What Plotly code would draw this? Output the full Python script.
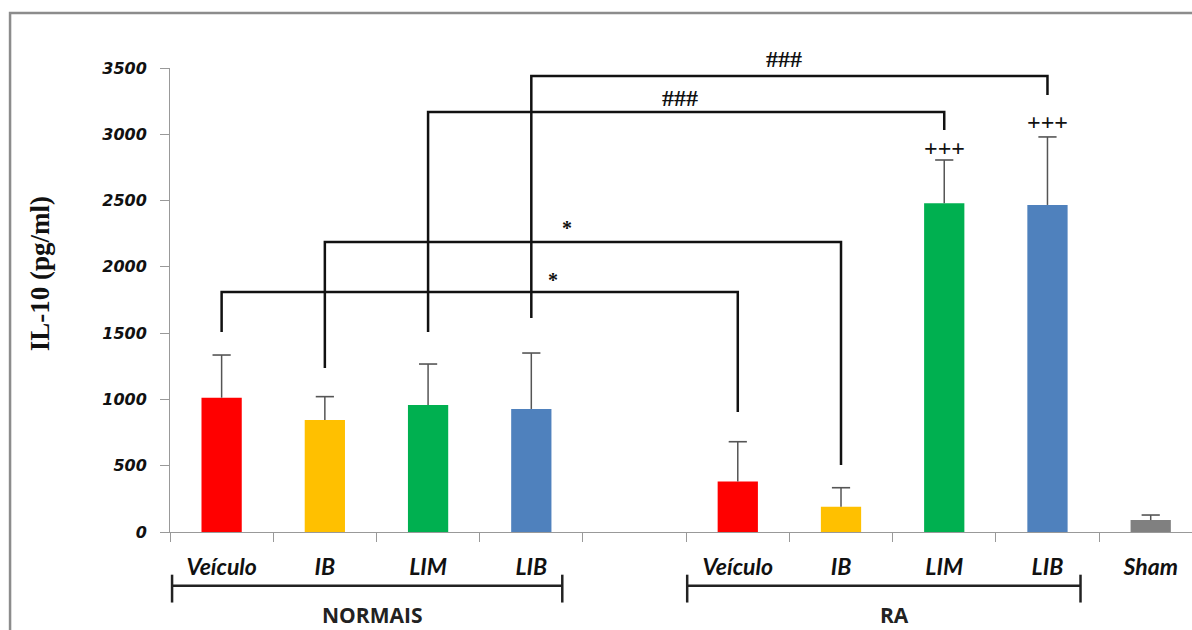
import plotly.graph_objects as go

# ---- data ----
labels = ["Veículo", "IB", "LIM", "LIB", "", "Veículo", "IB", "LIM", "LIB", "Sham"]
values = [1013, 845, 958, 928, None, 380, 191, 2479, 2467, 90]
err_up = [322, 176, 309, 422, None, 301, 143, 327, 513, 38]
colors = ["#FF0000", "#FFC000", "#00B050", "#4F81BD", "#FFFFFF",
          "#FF0000", "#FFC000", "#00B050", "#4F81BD", "#808080"]
y_ticks = [0, 500, 1000, 1500, 2000, 2500, 3000, 3500]

# comparisons: (left idx, right idx, bracket height, left leg bottom, right leg bottom, label)
comparisons = [
    (0, 5, 1810, 1509, 905, "*"),
    (1, 6, 2188, 1237, 505, "*"),
    (2, 7, 3168, 1509, 3032, "###"),
    (3, 8, 3440, 1614, 3296, "###"),
]
# label anchors for comparison marks (x in category units, y in data units)
comp_label_pos = [(3.21, 1900), (3.35, 2290), (4.44, 3270), (5.45, 3565)]
plus_marks = [(7, 2900, "+++"), (8, 3095, "+++")]
groups = [("NORMAIS", -0.48, 3.30, 1.46), ("RA", 4.51, 8.32, 6.52)]

x_idx = list(range(len(labels)))
xr = [-0.5, 9.4]
yr = [0, 3500]

def xp(xv):
    return (xv - xr[0]) / (xr[1] - xr[0])

def yp(yv):
    return (yv - yr[0]) / (yr[1] - yr[0])

err_top = [None if v is None else v + e for v, e in zip(values, err_up)]

fig = go.Figure()
fig.add_trace(go.Bar(
    x=x_idx, y=values, width=0.39,
    marker=dict(color=colors, line=dict(width=0)),
    showlegend=False, hoverinfo="skip",
))
# error whiskers (upward only) drawn from bar top to error top
fig.add_trace(go.Scatter(
    x=x_idx, y=err_top, mode="markers",
    marker=dict(symbol="line-ew", size=13, color="#555555",
                line=dict(color="#555555", width=1.6)),
    error_y=dict(type="data", symmetric=False, array=[0] * len(err_up),
                 arrayminus=[0 if e is None else e for e in err_up],
                 color="#555555", thickness=1.5, width=0),
    showlegend=False, hoverinfo="skip", cliponaxis=False,
))

shapes = []
annotations = []
line_col = "#111111"
for (a, b, h, la, lb, _t) in comparisons:
    shapes.append(dict(type="path", xref="x", yref="y",
                       path=f"M {a},{la} L {a},{h} L {b},{h} L {b},{lb}",
                       line=dict(color=line_col, width=2.5)))
for (t, (ax, ay)) in zip([c[5] for c in comparisons], comp_label_pos):
    annotations.append(dict(x=xp(ax), y=yp(ay), xref="paper", yref="paper", text=t,
                            showarrow=False, xanchor="center", yanchor="middle",
                            font=dict(family="Liberation Serif", size=24 if t != "*" else 20,
                                      color="#111111", weight="bold")))
for (px_, py_, t) in plus_marks:
    annotations.append(dict(x=xp(px_), y=yp(py_), xref="paper", yref="paper", text=t,
                            showarrow=False, xanchor="center", yanchor="middle",
                            font=dict(family="Liberation Serif", size=24,
                                      color="#111111", weight="bold")))

# group brackets under axis
for (name, g0, g1, gc) in groups:
    yl = -0.116
    shapes.append(dict(type="line", xref="paper", yref="paper", x0=xp(g0), x1=xp(g1),
                       y0=yl, y1=yl, line=dict(color="#222222", width=2.5)))
    for gx in (g0, g1):
        shapes.append(dict(type="line", xref="paper", yref="paper", x0=xp(gx), x1=xp(gx),
                           y0=yl + 0.024, y1=yl - 0.036, line=dict(color="#222222", width=2.5)))
    annotations.append(dict(x=xp(gc), y=-0.178, xref="paper", yref="paper", text=name,
                            showarrow=False, xanchor="center", yanchor="middle",
                            font=dict(family="Open Sans", size=21, color="#222222",
                                      weight="bold")))

# outer frame
shapes.append(dict(type="rect", xref="paper", yref="paper", x0=-0.1565, x1=1.05,
                   y0=-0.4, y1=1.1185, line=dict(color="#8c8c8c", width=2.5),
                   fillcolor="rgba(0,0,0,0)", layer="below"))

# y title
annotations.append(dict(x=-0.127, y=0.556, xref="paper", yref="paper",
                        text="IL-10 (pg/ml)", textangle=-90, showarrow=False,
                        xanchor="center", yanchor="middle",
                        font=dict(family="Liberation Serif", size=27, color="#111111",
                                  weight="bold")))

fig.update_layout(
    width=1192, height=630,
    margin=dict(l=170, r=0, t=68, b=98),
    paper_bgcolor="white", plot_bgcolor="white",
    shapes=shapes, annotations=annotations,
    xaxis=dict(range=xr, tickmode="array", tickvals=x_idx, ticktext=labels,
               ticks="", showline=True, linecolor="#999999", linewidth=1,
               showgrid=False, zeroline=False, ticklabelstandoff=14,
               tickfont=dict(family="Lato", size=23, color="#111111",
                             weight="bold", style="italic"),
               minor=dict(tick0=0.5, dtick=1, ticks="outside", ticklen=9,
                          tickcolor="#999999", tickwidth=1, showgrid=False)),
    yaxis=dict(range=yr, tickmode="array", tickvals=y_ticks,
               ticks="outside", ticklen=9, tickcolor="#999999", tickwidth=1,
               showline=True, linecolor="#999999", linewidth=1,
               showgrid=False, zeroline=False, ticklabelstandoff=10,
               tickfont=dict(family="DejaVu Sans", size=16, color="#111111",
                             weight="bold", style="italic")),
)

fig.write_html("out.html")
